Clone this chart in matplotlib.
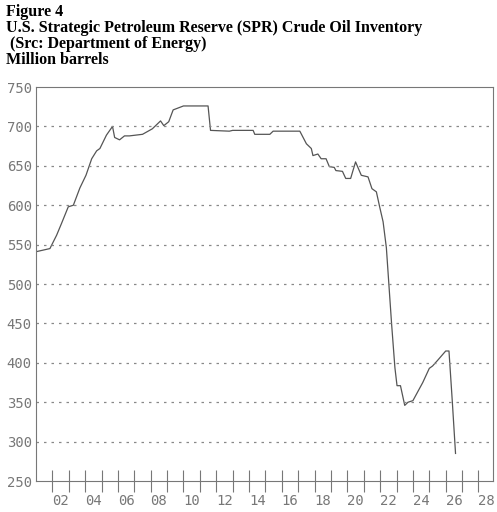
import matplotlib.pyplot as plt

years = [2001.0, 2001.85, 2002.26, 2002.56, 2002.97, 2003.28, 2003.68, 2004.05, 2004.4, 2004.7,
         2004.9, 2005.3, 2005.67, 2005.8, 2006.1, 2006.4, 2006.7, 2007.5, 2008.1, 2008.6,
         2008.8, 2009.1, 2009.37, 2010.0, 2011.5, 2011.65, 2012.8, 2013.0, 2014.25, 2014.35,
         2015.27, 2015.47, 2017.1, 2017.5, 2017.8, 2017.9, 2018.2, 2018.4, 2018.7, 2018.9,
         2019.2, 2019.3, 2019.7, 2019.9, 2020.2, 2020.5, 2020.85, 2021.26, 2021.5, 2021.77,
         2021.97, 2022.18, 2022.38, 2022.7, 2022.9, 2023.03, 2023.24, 2023.5, 2023.7, 2024.0,
         2024.6, 2025.0, 2025.2, 2025.5, 2026.0, 2026.2, 2026.4, 2026.6]
inventory = [541, 545, 562, 577, 598, 600, 622, 638, 659, 669,
             672, 689, 700, 686, 683, 688, 688, 690, 697, 707,
             701, 706, 721, 726, 726, 695, 694, 695, 695, 690,
             690, 694, 694, 678, 672, 663, 665, 659, 659, 649,
             648, 644, 643, 634, 634, 655, 638, 636, 621, 617,
             598, 579, 546, 449, 394, 371, 371, 346, 350, 352,
             375, 393, 396, 403, 415, 415, 352, 285]
label_years = list(range(2002, 2029, 2))
label_text = [f"{y % 100:02d}" for y in label_years]

fig = plt.figure(figsize=(4.97, 5.12), dpi=100)
ax = fig.add_axes([0.0724, 0.0605, 0.92, 0.7695])

ax.plot(years, inventory, color="#555555", lw=0.9)
ax.set_xlim(2001, 2028.9)
ax.set_ylim(250, 750)

gray = "#777777"
ax.set_yticks(range(250, 751, 50))
ax.set_xticks(range(2002, 2029))
ax.set_xticklabels([])
ax.set_xticks([y + 0.5 for y in label_years], minor=True)
ax.set_xticklabels(label_text, minor=True)
ax.tick_params(axis="x", which="major", direction="inout", length=16, color=gray)
ax.tick_params(axis="x", which="minor", length=0, pad=9, labelcolor=gray, labelsize=10)
ax.tick_params(axis="y", length=0, pad=3, labelcolor=gray, labelsize=10)
for lab in ax.get_xticklabels(minor=True) + ax.get_yticklabels():
    lab.set_family("DejaVu Sans Mono")
for v in range(300, 701, 50):
    ax.axhline(v, color="#888888", lw=0.9, ls=(0, (2, 4)))
for s in ax.spines.values():
    s.set_color(gray)

title = ("Figure 4\nU.S. Strategic Petroleum Reserve (SPR) Crude Oil Inventory\n"
         " (Src: Department of Energy)\nMillion barrels")
fig.text(0.012, 0.993, title, ha="left", va="top", family="Liberation Serif",
         weight="bold", fontsize=11.5, linespacing=1.0)

fig.savefig("out.png", dpi=100)
